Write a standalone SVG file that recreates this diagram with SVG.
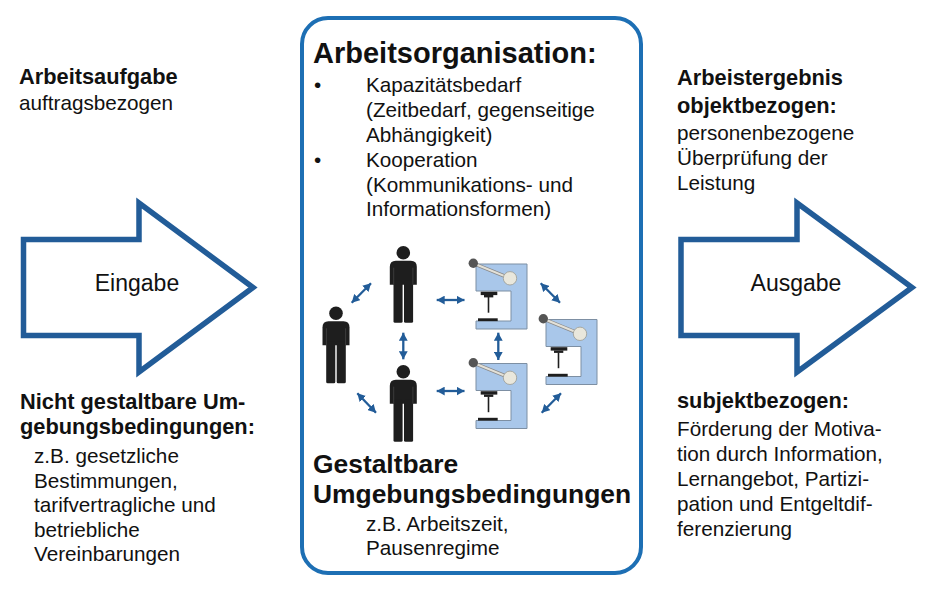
<svg xmlns="http://www.w3.org/2000/svg" width="936" height="598" viewBox="0 0 936 598">
<style>
text{font-family:"Liberation Sans",Arial,Helvetica,sans-serif;fill:#111}
.r{font-size:20.7px}
.b{font-size:21.8px;font-weight:bold}
.t{font-size:29px;font-weight:bold}
.h{font-size:26.4px;font-weight:bold}
.l{font-size:23px}
.big{fill:#fff;stroke:#225c98;stroke-width:5.5;stroke-linejoin:miter;stroke-miterlimit:10}
.con line{stroke:#225c98;stroke-width:2.3;marker-start:url(#ah);marker-end:url(#ah)}
.fig{fill:#1e1e1e}
.mbody{fill:#a9c7ea;stroke:#7d8fa3;stroke-width:1}
</style>
<defs>
<marker id="ah" markerUnits="userSpaceOnUse" markerWidth="9" markerHeight="9" refX="8" refY="4.4" orient="auto-start-reverse" viewBox="0 0 9 8.8">
<path d="M0,0 L8,4.4 L0,8.8 Z" fill="#225c98"/>
</marker>
<g id="person" class="fig">
<circle cx="0" cy="0" r="6.8"/>
<path d="M-13.5,14 Q-13.5,8 -7.5,8 H7.5 Q13.5,8 13.5,14 V32 H-13.5 Z"/>
<rect x="-9.8" y="28" width="9.1" height="42" rx="1.5"/>
<rect x="0.7" y="28" width="9.1" height="42" rx="1.5"/>
<path d="M-9.6,15 V32 M9.6,15 V32" stroke="#444" stroke-width="0.8" fill="none"/>
</g>
<g id="machine">
<path class="mbody" d="M0,0 H51 V65 H0 V57 H35 V27 H0 Z"/>
<line x1="-2.7" y1="-0.7" x2="34" y2="14.3" stroke="#8a8a8a" stroke-width="3.6"/>
<line x1="-2.7" y1="-0.7" x2="34" y2="14.3" stroke="#e3e1d8" stroke-width="2"/>
<circle cx="-2.7" cy="-0.7" r="4.7" fill="#555"/>
<circle cx="34" cy="14.3" r="6.7" fill="#e9e7dc" stroke="#9a9a92" stroke-width="0.8"/>
<rect x="4.7" y="27.7" width="16.6" height="3.4" fill="#1e1e1e"/>
<rect x="8" y="31" width="9.3" height="2.4" fill="#1e1e1e"/>
<line x1="12.5" y1="33" x2="12.5" y2="48.7" stroke="#1e1e1e" stroke-width="1.6"/>
<rect x="2" y="54.3" width="19.7" height="2.8" fill="#1e1e1e"/>
</g>
</defs>
<rect width="936" height="598" fill="#fff"/>

<g id="input-text">
<text class="b" x="19" y="84">Arbeitsaufgabe</text>
<text class="r" x="19" y="110">auftragsbezogen</text>
</g>
<g id="eingabe">
<polygon class="big" points="23.5,239.5 139,239.5 139,203 253,287.5 139,372 139,335.5 23.5,335.5"/>
<text class="l" x="137" y="291" text-anchor="middle">Eingabe</text>
</g>
<g id="nicht-gestaltbar">
<text class="b" x="20" y="409">Nicht gestaltbare Um-</text>
<text class="b" x="20" y="434">gebungsbedingungen:</text>
<text class="r" x="34" y="463">z.B. gesetzliche</text>
<text class="r" x="34" y="487.5">Bestimmungen,</text>
<text class="r" x="34" y="512">tarifvertragliche und</text>
<text class="r" x="34" y="537">betriebliche</text>
<text class="r" x="34" y="561">Vereinbarungen</text>
</g>

<g id="arbeitsorganisation">
<rect x="302" y="18" width="339" height="555" rx="26" fill="#fff" stroke="#1d6fb4" stroke-width="4"/>
<text class="t" x="313" y="63">Arbeitsorganisation:</text>
<text class="r" x="314" y="92">•</text>
<text class="r" x="366" y="92">Kapazitätsbedarf</text>
<text class="r" x="366" y="117">(Zeitbedarf, gegenseitige</text>
<text class="r" x="366" y="142">Abhängigkeit)</text>
<text class="r" x="314" y="167">•</text>
<text class="r" x="366" y="167">Kooperation</text>
<text class="r" x="366" y="192">(Kommunikations- und</text>
<text class="r" x="366" y="216">Informationsformen)</text>
<text class="h" x="313" y="473">Gestaltbare</text>
<text class="h" x="313" y="503">Umgebungsbedingungen</text>
<text class="r" x="366" y="531">z.B. Arbeitszeit,</text>
<text class="r" x="366" y="555">Pausenregime</text>
</g>

<g id="person-a"><use href="#person" transform="translate(403.3,252.7)"/></g>
<g id="person-b"><use href="#person" transform="translate(336,313.3)"/></g>
<g id="person-c"><use href="#person" transform="translate(403.3,371.7)"/></g>
<g id="machine-1"><use href="#machine" transform="translate(476,264)"/></g>
<g id="machine-2"><use href="#machine" transform="translate(476,363.5)"/></g>
<g id="machine-3"><use href="#machine" transform="translate(546,319.5)"/></g>

<g id="connectors" class="con">
<line x1="351.7" y1="302.7" x2="371" y2="283.3"/>
<line x1="436.7" y1="300" x2="464.5" y2="300"/>
<line x1="403.3" y1="332.7" x2="403.3" y2="359.3"/>
<line x1="498.3" y1="332.7" x2="498.3" y2="360"/>
<line x1="540.7" y1="283.3" x2="560" y2="302.7"/>
<line x1="357.3" y1="393.3" x2="376" y2="412.7"/>
<line x1="436.7" y1="391" x2="464.5" y2="391"/>
<line x1="541.7" y1="412.7" x2="561" y2="393.3"/>
</g>

<g id="output-text">
<text class="b" x="677" y="85">Arbeistergebnis</text>
<text class="b" x="677" y="112.5">objektbezogen:</text>
<text class="r" x="677" y="140">personenbezogene</text>
<text class="r" x="677" y="165">Überprüfung der</text>
<text class="r" x="677" y="189.5">Leistung</text>
</g>
<g id="ausgabe">
<polygon class="big" points="681,239.5 797,239.5 797,203 912,287.5 797,372 797,335.5 681,335.5"/>
<text class="l" x="796" y="291" text-anchor="middle">Ausgabe</text>
</g>
<g id="subjektbezogen">
<text class="b" x="677" y="408">subjektbezogen:</text>
<text class="r" x="677" y="436">Förderung der Motiva-</text>
<text class="r" x="677" y="461">tion durch Information,</text>
<text class="r" x="677" y="486">Lernangebot, Partizi-</text>
<text class="r" x="677" y="511">pation und Entgeltdif-</text>
<text class="r" x="677" y="535.5">ferenzierung</text>
</g>
</svg>
